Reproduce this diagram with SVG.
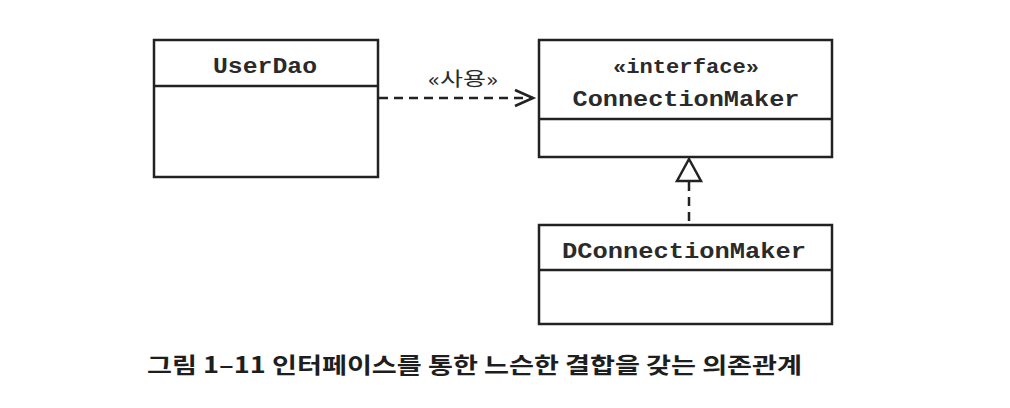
<svg xmlns="http://www.w3.org/2000/svg" width="1010" height="408" viewBox="0 0 1010 408">
  <style>
    .box { fill: #ffffff; stroke: #222222; stroke-width: 2.5; }
    .div { stroke: #222222; stroke-width: 2.5; }
    .mono { font-family: "Liberation Mono", "DejaVu Sans Mono", monospace; font-weight: bold; fill: #2a2a2a; text-anchor: middle; }
    .kr { font-family: "Noto Sans CJK KR", sans-serif; fill: #2a2a2a; text-anchor: middle; }
    .dash { fill: none; stroke: #222222; stroke-width: 2.5; stroke-dasharray: 9 6; }
  </style>
  <defs>
    <marker id="open" markerUnits="userSpaceOnUse" markerWidth="24" markerHeight="20" refX="20" refY="10" orient="auto">
      <path d="M2,2 L20,10 L2,18" fill="none" stroke="#222222" stroke-width="2.6"/>
    </marker>
  </defs>
  <rect width="1010" height="408" fill="#ffffff"/>

  <g id="UserDao">
    <rect class="box" x="154" y="40" width="224" height="137"/>
    <line class="div" x1="154" y1="86" x2="378" y2="86"/>
    <text class="mono" x="265" y="73" font-size="22" textLength="104" lengthAdjust="spacingAndGlyphs">UserDao</text>
  </g>

  <g id="ConnectionMaker">
    <rect class="box" x="539" y="40" width="293" height="117"/>
    <line class="div" x1="539" y1="119" x2="832" y2="119"/>
    <text class="mono" x="686" y="73" font-size="20" textLength="146" lengthAdjust="spacingAndGlyphs">«interface»</text>
    <text class="mono" x="686" y="106" font-size="22" textLength="227" lengthAdjust="spacingAndGlyphs">ConnectionMaker</text>
  </g>

  <g id="DConnectionMaker">
    <rect class="box" x="539" y="225" width="293" height="99"/>
    <line class="div" x1="539" y1="270" x2="832" y2="270"/>
    <text class="mono" x="684" y="258" font-size="22" textLength="244" lengthAdjust="spacingAndGlyphs">DConnectionMaker</text>
  </g>

  <g id="connectors">
    <line class="dash" x1="379" y1="98" x2="533" y2="98" marker-end="url(#open)"/>
    <text class="kr" x="463" y="86" font-size="19" textLength="70" lengthAdjust="spacingAndGlyphs">«사용»</text>
    <line class="dash" x1="689" y1="182" x2="689" y2="224"/>
    <polygon points="689,159 677,181 701,181" fill="#ffffff" stroke="#222222" stroke-width="2.5" stroke-linejoin="miter"/>
  </g>

  <text x="147" y="373" font-family="Noto Sans CJK KR, sans-serif" font-weight="bold" font-size="22" fill="#1e1e1e" textLength="655" lengthAdjust="spacingAndGlyphs">그림 1–11 인터페이스를 통한 느슨한 결합을 갖는 의존관계</text>
</svg>
